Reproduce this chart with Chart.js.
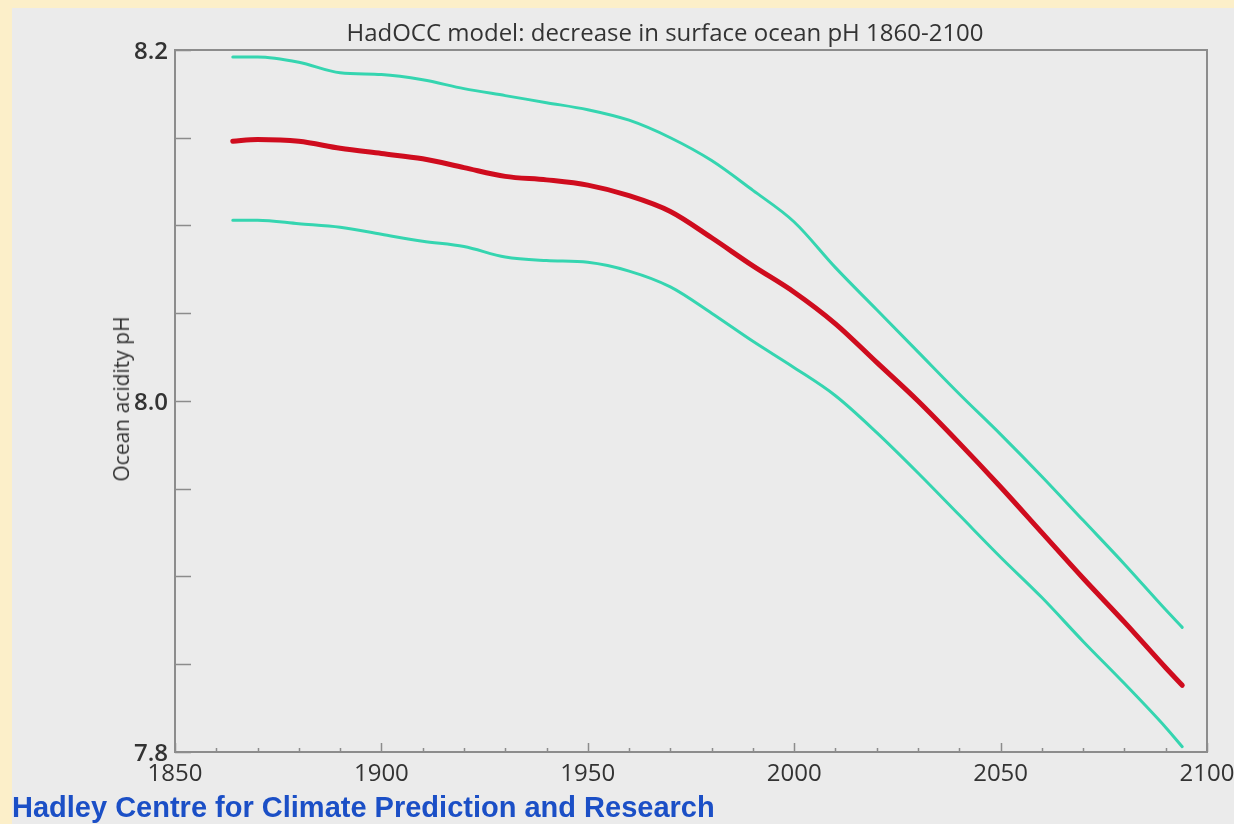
<!DOCTYPE html>
<html>
<head>
<meta charset="utf-8">
<title>HadOCC model: decrease in surface ocean pH 1860-2100</title>
<script src="https://cdn.jsdelivr.net/npm/chart.js@4.4.1/dist/chart.umd.min.js"></script>
<style>
    html, body { margin: 0; padding: 0; }
    body {
        width: 1234px;
        height: 824px;
        background: #fcefc9;
        position: relative;
        overflow: hidden;
    }
    #panel {
        position: absolute;
        left: 12px; top: 8px; right: 0; bottom: 0;
        background: #ebebeb;
    }
    #chartWrap { position: absolute; left: 0; top: 0; width: 1234px; height: 824px; }
    #title {
        position: absolute;
        left: 665px; top: 31px;
        transform: translate(-50%, -50%);
        font: 24px "Open Sans", sans-serif;
        color: #333;
        white-space: nowrap;
    }
    #ylabel {
        position: absolute;
        left: 121px; top: 399px;
        transform: translate(-50%, -50%) rotate(-90deg);
        font: 21px "Open Sans", sans-serif;
        color: #333;
        white-space: nowrap;
    }
    #footer {
        position: absolute;
        left: 12px; top: 807px;
        transform: translateY(-50%);
        font: bold 29px "Liberation Sans", Arial, sans-serif;
        color: #1b4fc6;
        white-space: nowrap;
    }
</style>
</head>
<body>
<div id="panel"></div>
<div id="chartWrap"><canvas id="chartPh" width="1234" height="824"></canvas></div>
<div id="title">HadOCC model: decrease in surface ocean pH 1860-2100</div>
<div id="ylabel">Ocean acidity pH</div>
<div id="footer">Hadley Centre for Climate Prediction and Research</div>

<script>
// values
const years = [1864, 1870, 1880, 1890, 1900, 1910, 1920, 1930, 1940, 1950, 1960, 1970,
               1980, 1990, 2000, 2010, 2020, 2030, 2040, 2050, 2060, 2070, 2080, 2090, 2094];

const phUpper = [8.196, 8.196, 8.193, 8.187, 8.186, 8.183, 8.178, 8.174, 8.170, 8.166, 8.160, 8.150,
                 8.137, 8.120, 8.102, 8.076, 8.052, 8.028, 8.004, 7.981, 7.957, 7.932, 7.907, 7.881, 7.871];

const phMean = [8.148, 8.149, 8.148, 8.144, 8.141, 8.138, 8.133, 8.128, 8.126, 8.123, 8.117, 8.108,
                8.093, 8.077, 8.062, 8.044, 8.022, 8.000, 7.976, 7.951, 7.925, 7.899, 7.874, 7.848, 7.838];

const phLower = [8.103, 8.103, 8.101, 8.099, 8.095, 8.091, 8.088, 8.082, 8.080, 8.079, 8.074, 8.065,
                 8.050, 8.034, 8.019, 8.003, 7.982, 7.959, 7.935, 7.911, 7.888, 7.863, 7.839, 7.814, 7.803];

const yLabelValues = [7.8, 8.0, 8.2];
const xLabelValues = [1850, 1900, 1950, 2000, 2050, 2100];

const cyan = '#35d5b0';
const red = '#cf0c1e';
const axisGrey = '#8c8c8c';

function toPoints(vals) {
    return years.map((yr, i) => ({ x: yr, y: vals[i] }));
}

// frame round the plot plus inward tick marks, like the original IDL plot
const frameTicks = {
    id: 'frameTicks',
    afterDraw(chart) {
        const { ctx, chartArea: a, scales } = chart;
        ctx.save();
        ctx.strokeStyle = axisGrey;
        ctx.lineWidth = 2;
        ctx.strokeRect(a.left, a.top, a.right - a.left, a.bottom - a.top);

        ctx.lineWidth = 1.5;
        ctx.beginPath();
        scales.y.ticks.forEach(t => {
            const py = Math.round(scales.y.getPixelForValue(t.value)) + 0.5;
            ctx.moveTo(a.left, py);
            ctx.lineTo(a.left + 16, py);
        });
        scales.x.ticks.forEach(t => {
            const px = Math.round(scales.x.getPixelForValue(t.value)) + 0.5;
            const len = t.value % 50 === 0 ? 9 : 4;
            ctx.moveTo(px, a.bottom);
            ctx.lineTo(px, a.bottom - len);
        });
        ctx.stroke();
        ctx.restore();
    }
};

const ctx = document.getElementById('chartPh').getContext('2d');

new Chart(ctx, {
    type: 'line',
    data: {
        datasets: [
            { data: toPoints(phUpper), borderColor: cyan, borderWidth: 3 },
            { data: toPoints(phLower), borderColor: cyan, borderWidth: 3 },
            { data: toPoints(phMean), borderColor: red, borderWidth: 5 },
        ],
    },
    options: {
        responsive: false,
        animation: false,
        layout: { padding: { left: 0, top: 50, right: 27, bottom: 0 } },
        elements: {
            point: { radius: 0 },
            line: { cubicInterpolationMode: 'monotone', borderCapStyle: 'round', borderJoinStyle: 'round' },
        },
        plugins: {
            legend: { display: false },
            tooltip: { enabled: false },
        },
        scales: {
            x: {
                type: 'linear',
                min: 1850,
                max: 2100,
                afterFit(scale) {
                    scale.height = 72;
                    // let "2100" hang past the frame instead of shrinking the plot
                    scale.paddingLeft = 0;
                    scale.paddingRight = 0;
                },
                border: { display: false },
                grid: { display: false, drawTicks: false },
                ticks: {
                    stepSize: 10,
                    autoSkip: false,
                    maxRotation: 0,
                    padding: 8,
                    color: '#333',
                    font: { family: 'Open Sans', size: 24 },
                    callback: v => xLabelValues.includes(v) ? String(v) : '',
                },
            },
            y: {
                min: 7.8,
                max: 8.2,
                afterFit(scale) { scale.width = 175; },
                border: { display: false },
                grid: { display: false, drawTicks: false },
                ticks: {
                    stepSize: 0.05,
                    autoSkip: false,
                    padding: 7,
                    labelOffset: 2,
                    color: '#333',
                    font: { family: 'Open Sans', size: 24, weight: '600' },
                    callback: v => {
                        const hit = yLabelValues.find(l => Math.abs(l - v) < 1e-6);
                        return hit !== undefined ? hit.toFixed(1) : '';
                    },
                },
            },
        },
    },
    plugins: [frameTicks],
});
</script>
</body>
</html>
